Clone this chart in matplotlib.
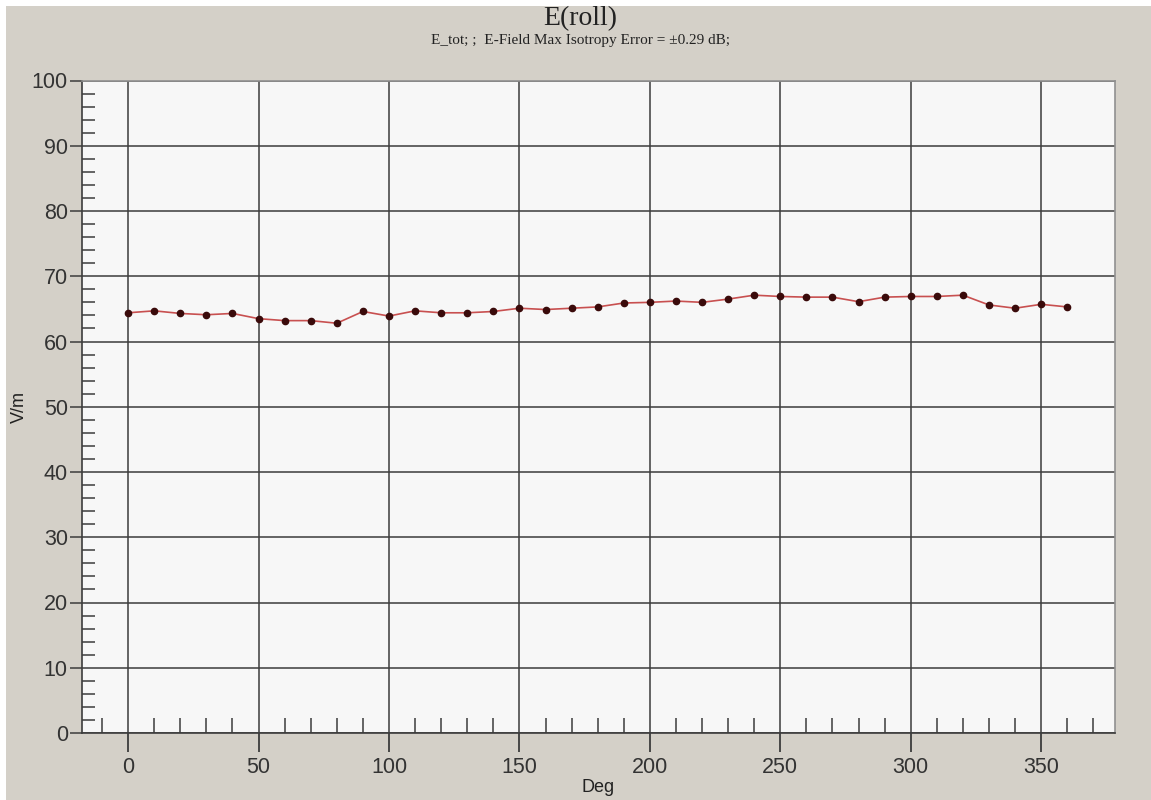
import matplotlib
matplotlib.use("Agg")
import matplotlib.pyplot as plt
from matplotlib.ticker import MultipleLocator
from matplotlib.patches import Rectangle

deg = [0, 10, 20, 30, 40, 50, 60, 70, 80, 90, 100, 110, 120, 130, 140, 150, 160, 170, 180,
       190, 200, 210, 220, 230, 240, 250, 260, 270, 280, 290, 300, 310, 320, 330, 340, 350, 360]
e_tot = [64.4, 64.7, 64.3, 64.1, 64.3, 63.5, 63.2, 63.2, 62.8, 64.6, 63.9, 64.7, 64.4, 64.4,
         64.6, 65.1, 64.9, 65.1, 65.3, 65.9, 66.0, 66.2, 66.0, 66.5, 67.1, 66.9, 66.8, 66.8,
         66.1, 66.8, 66.9, 66.9, 67.1, 65.6, 65.1, 65.7, 65.3]
x_ticks = [0, 50, 100, 150, 200, 250, 300, 350]
y_ticks = [0, 10, 20, 30, 40, 50, 60, 70, 80, 90, 100]

title = "E(roll)"
subtitle = "E_tot; ;  E-Field Max Isotropy Error = \u00b10.29 dB;"

W, H = 1151, 800
fig = plt.figure(figsize=(W / 100, H / 100), dpi=100)
fig.patch.set_facecolor("#d4d0c8")
# white screenshot border at top and left
fig.patches.append(Rectangle((0, 1 - 6 / H), 1, 6 / H, transform=fig.transFigure,
                             facecolor="white", edgecolor="none", zorder=0))
fig.patches.append(Rectangle((0, 0), 6 / W, 1, transform=fig.transFigure,
                             facecolor="white", edgecolor="none", zorder=0))

left, right, top, bottom = 81.7, 1115, 80.5, 733
ax = fig.add_axes([left / W, 1 - bottom / H, (right - left) / W, (bottom - top) / H])
ax.set_facecolor("#f7f7f7")

ax.plot(deg, e_tot, color="#c85050", linewidth=1.2, zorder=3)
ax.plot(deg, e_tot, linestyle="none", marker="o", markersize=4.5,
        markerfacecolor="#3a0a0a", markeredgecolor="#3a0a0a", zorder=4)

ax.set_xlim(-17.8, 378.3)
ax.set_ylim(0, 100)
ax.set_xticks(x_ticks)
ax.set_yticks(y_ticks)
ax.xaxis.set_minor_locator(MultipleLocator(10))
ax.yaxis.set_minor_locator(MultipleLocator(2))

ax.grid(True, which="major", color="#3c3c3c", linewidth=1.1)
ax.set_axisbelow(True)

ax.tick_params(axis="x", which="major", direction="out", length=14, width=1.3,
               color="#3c3c3c", labelsize=15.5, labelcolor="#333333", pad=3)
ax.tick_params(axis="y", which="major", direction="out", length=9, width=1.1,
               color="#3c3c3c", labelsize=15.5, labelcolor="#333333", pad=1)
ax.tick_params(axis="x", which="minor", direction="in", length=11, width=1.1,
               color="#3c3c3c", bottom=True)
ax.tick_params(axis="y", which="minor", direction="in", length=9, width=1.1,
               color="#3c3c3c", left=True)

for lab in ax.get_xticklabels() + ax.get_yticklabels():
    lab.set_family("Liberation Sans")

for s in ["top", "right"]:
    ax.spines[s].set_color("#909090")
    ax.spines[s].set_linewidth(1.2)
for s in ["left", "bottom"]:
    ax.spines[s].set_color("#3c3c3c")
    ax.spines[s].set_linewidth(1.2)

ax.set_xlabel("Deg", fontsize=13, family="Liberation Sans", color="#222222", labelpad=1)
ax.set_ylabel("V/m", fontsize=13, family="Liberation Sans", color="#222222", labelpad=3)

fig.text(0.504, 0.977, title, ha="center", va="center", fontsize=20,
         family="Liberation Serif", color="#222222")
fig.text(0.504, 0.949, subtitle, ha="center", va="center", fontsize=11,
         family="Liberation Serif", color="#222222")

fig.savefig("out.png", dpi=100, facecolor=fig.get_facecolor())
